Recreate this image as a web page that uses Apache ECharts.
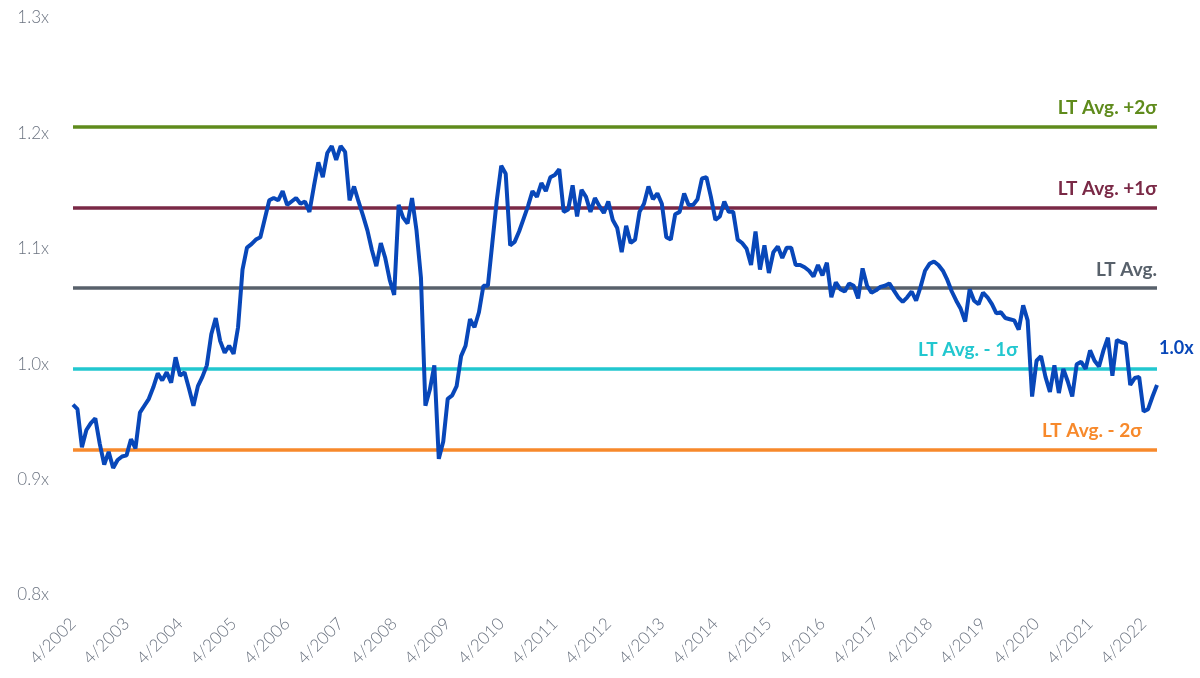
<!DOCTYPE html>
<html>
<head>
<meta charset="utf-8">
<script src="https://cdn.jsdelivr.net/npm/echarts@6/dist/echarts.min.js"></script>
<style>html,body{margin:0;padding:0;background:#fff;}#c{width:1200px;height:678px;}</style>
</head>
<body>
<div id="c"></div>
<script>
// Monthly multiple, 4/2002 .. 7/2022
var startYear = 2002, startMonth = 4;
var values = [
0.965, 0.961, 0.928, 0.943, 0.949, 0.953, 0.931, 0.913, 0.924, 0.910,
0.917, 0.920, 0.921, 0.935, 0.927, 0.958, 0.964, 0.970, 0.980, 0.992,
0.986, 0.993, 0.984, 1.006, 0.990, 0.993, 0.979, 0.964, 0.981, 0.989,
0.999, 1.026, 1.040, 1.020, 1.010, 1.016, 1.009, 1.032, 1.082, 1.101,
1.104, 1.108, 1.110, 1.126, 1.142, 1.144, 1.142, 1.150, 1.138, 1.141,
1.144, 1.139, 1.141, 1.132, 1.154, 1.175, 1.162, 1.183, 1.189, 1.177,
1.189, 1.184, 1.142, 1.154, 1.141, 1.129, 1.116, 1.099, 1.085, 1.105,
1.092, 1.073, 1.060, 1.138, 1.127, 1.122, 1.144, 1.116, 1.075, 0.964,
0.978, 0.999, 0.918, 0.933, 0.970, 0.973, 0.981, 1.007, 1.016, 1.039,
1.032, 1.045, 1.068, 1.068, 1.105, 1.142, 1.172, 1.165, 1.103, 1.106,
1.115, 1.126, 1.137, 1.150, 1.145, 1.157, 1.150, 1.162, 1.164, 1.169,
1.132, 1.134, 1.155, 1.128, 1.151, 1.145, 1.132, 1.144, 1.137, 1.131,
1.141, 1.125, 1.118, 1.097, 1.120, 1.105, 1.108, 1.132, 1.139, 1.154,
1.143, 1.148, 1.139, 1.110, 1.108, 1.130, 1.132, 1.148, 1.138, 1.138,
1.143, 1.161, 1.162, 1.145, 1.125, 1.128, 1.141, 1.132, 1.132, 1.108,
1.105, 1.100, 1.086, 1.115, 1.082, 1.103, 1.079, 1.097, 1.102, 1.092,
1.101, 1.101, 1.086, 1.086, 1.084, 1.081, 1.076, 1.086, 1.077, 1.088,
1.058, 1.071, 1.065, 1.063, 1.070, 1.068, 1.057, 1.083, 1.068, 1.062,
1.064, 1.067, 1.068, 1.070, 1.064, 1.058, 1.054, 1.058, 1.063, 1.055,
1.067, 1.081, 1.087, 1.089, 1.086, 1.081, 1.073, 1.063, 1.055, 1.048,
1.037, 1.065, 1.055, 1.052, 1.062, 1.058, 1.052, 1.044, 1.045, 1.040,
1.039, 1.038, 1.030, 1.051, 1.038, 0.972, 1.003, 1.007, 0.989, 0.976,
0.999, 0.975, 0.996, 0.985, 0.972, 1.000, 1.002, 0.996, 1.012, 1.003,
0.998, 1.012, 1.023, 0.990, 1.021, 1.019, 1.018, 0.982, 0.988, 0.989,
0.959, 0.961, 0.972, 0.982
];
var categories = [];
for (var k = 0; k < values.length; k++) {
  var m = (startMonth - 1 + k) % 12 + 1;
  var y = startYear + Math.floor((startMonth - 1 + k) / 12);
  categories.push(m + '/' + y);
}
var refNames  = ['LT Avg. +2σ', 'LT Avg. +1σ', 'LT Avg.', 'LT Avg. - 1σ', 'LT Avg. - 2σ'];
var refValues = [1.206, 1.136, 1.066, 0.996, 0.926];
var refColors = ['#5f8b1c', '#7a2946', '#58616b', '#22c7cf', '#f7892b'];
var refLabelShift = [0, 0, 0, 139, 15];
var yTicks = [0.8, 0.9, 1.0, 1.1, 1.2, 1.3];

var markData = refValues.map(function (v, i) {
  return {
    yAxis: v,
    lineStyle: { color: refColors[i], width: 3.5, type: 'solid' },
    label: {
      show: true, position: 'insideEndTop', formatter: refNames[i],
      color: refColors[i], fontFamily: 'Lato', fontWeight: 'bold', fontSize: 19,
      distance: [refLabelShift[i], 9]
    }
  };
});

var chart = echarts.init(document.getElementById('c'), null, { renderer: 'canvas' });
chart.setOption({
  animation: false,
  backgroundColor: '#ffffff',
  grid: { left: 73, right: 43, top: 18, bottom: 83, containLabel: false },
  xAxis: {
    type: 'category', data: categories, boundaryGap: false,
    axisLine: { show: false }, axisTick: { show: false }, splitLine: { show: false },
    axisLabel: {
      interval: function (idx) { return idx % 12 === 0; },
      rotate: 45, margin: 26, color: '#6b7380', fontFamily: 'Lato', fontSize: 17, fontWeight: 300
    }
  },
  yAxis: {
    type: 'value', min: yTicks[0], max: yTicks[yTicks.length - 1], interval: 0.1,
    axisLine: { show: false }, axisTick: { show: false }, splitLine: { show: false },
    axisLabel: {
      margin: 24, color: '#6b7380', fontFamily: 'Lato', fontSize: 17, fontWeight: 300,
      formatter: function (v) { return v.toFixed(1) + 'x'; }
    }
  },
  series: [{
    type: 'line', data: values, symbol: 'none', z: 5,
    lineStyle: { color: '#0847b9', width: 4 },
    itemStyle: { color: '#0847b9' },
    endLabel: {
      show: true, color: '#0847b9', fontFamily: 'Lato', fontWeight: 'bold', fontSize: 18,
      offset: [-6, -37],
      formatter: function (p) { return p.value.toFixed(1) + 'x'; }
    },
    markLine: { silent: true, symbol: 'none', animation: false, precision: 4, z: 2, data: markData }
  }]
});
</script>
</body>
</html>
